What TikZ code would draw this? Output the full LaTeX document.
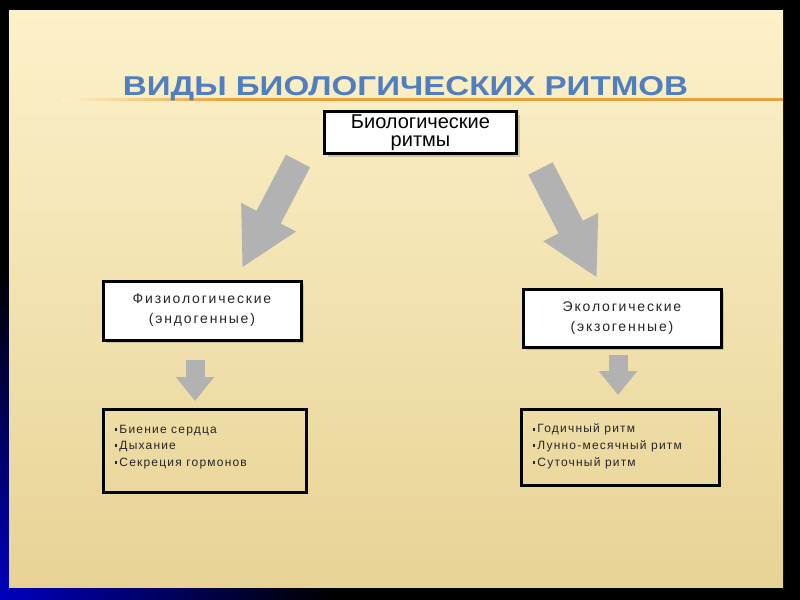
\documentclass[tikz,border=0pt]{standalone}
\usepackage{graphicx}
\usepackage{fontspec}
\setmainfont{Liberation Sans}
\newfontfamily\spaced[LetterSpace=13]{Liberation Sans}
\newfontfamily\listfont[LetterSpace=10]{Liberation Sans}
\usepackage{tikz}
\usetikzlibrary{arrows.meta,positioning,calc,shadows}
\definecolor{slidetop}{RGB}{252,241,202}
\definecolor{slidebot}{RGB}{232,211,150}
\definecolor{titleblue}{RGB}{80,126,192}
\definecolor{ruleorange}{RGB}{232,160,58}
\definecolor{arrowgrey}{RGB}{178,178,178}
\definecolor{cornerblue}{RGB}{0,0,190}
\tikzstyle{box} = [rectangle, draw=black, line width=2.25pt, fill=white, inner sep=0pt, align=center, drop shadow={shadow xshift=2.25pt, shadow yshift=-2.25pt, opacity=.35}]
\tikzstyle{listbox} = [rectangle, draw=black, line width=2.5pt, inner xsep=8.25pt, inner ysep=0pt, outer sep=0pt, anchor=north west]
\tikzstyle{bigarrow} = [draw=arrowgrey, line width=20.5pt, -{Triangle[length=43pt,width=43pt]}]
\tikzstyle{smallarrow} = [draw=arrowgrey, line width=14.25pt, -{Triangle[length=18pt,width=27.75pt]}]
\newcommand{\sq}{\raisebox{1.8pt}{\rule{2.2pt}{2.2pt}}\hspace{1.5pt}}
\begin{document}
\begin{tikzpicture}[x=0.75pt, y=-0.75pt]
    \useasboundingbox (0,0) rectangle (800,600);
    \fill[black] (0,0) rectangle (800,600);
    \shade[inner color=cornerblue, outer color=black] (0,600) circle (330);
    \shade[top color=slidetop, bottom color=slidebot] (9,10) rectangle (783,587);
    \shade[left color=slidetop, right color=ruleorange] (62,98) rectangle (230,100.5);
    \fill[ruleorange] (230,98) rectangle (783,100.5);

    \node[anchor=base, inner sep=0pt, text=titleblue] (title) at (405.5,95)
        {\resizebox{423.75pt}{14.25pt}{\bfseries ВИДЫ БИОЛОГИЧЕСКИХ РИТМОВ}};

    \node[box, minimum width=144pt, minimum height=31.5pt, font=\fontsize{15pt}{13.5pt}\selectfont] (bio) at (420.5,132.5) {Биологические\\ритмы};
    \node[box, minimum width=148.5pt, minimum height=44.25pt, text=black!85, font=\spaced\fontsize{10.5pt}{15pt}\selectfont] (physio) at (202,310.5) {Физиологические\\(эндогенные)};
    \node[box, minimum width=148.5pt, minimum height=43.5pt, text=black!85, font=\spaced\fontsize{10.5pt}{15pt}\selectfont] (eco) at (622,318) {Экологические\\(экзогенные)};

    \node[listbox, minimum width=152.25pt, text height=11.6pt, text depth=50.6pt] (physlist) at (103.5,409.5)
        {\parbox[t]{135.75pt}{\raggedright\listfont\fontsize{9pt}{12.4pt}\selectfont\color{black!85}\sq Биение сердца\\\sq Дыхание\\\sq Секреция гормонов}};
    \node[listbox, minimum width=148.5pt, text height=10.9pt, text depth=46.1pt] (ecolist) at (521.5,409.5)
        {\parbox[t]{132pt}{\raggedright\listfont\fontsize{9pt}{12.4pt}\selectfont\color{black!85}\sq Годичный ритм\\\sq Лунно-месячный ритм\\\sq Суточный ритм}};

    \coordinate (bioL) at (298,161);
    \coordinate (physioT) at (242,268);
    \coordinate (bioR) at (540.5,168.5);
    \coordinate (ecoT) at (597,278);
    \coordinate (physioB) at (195,360);
    \coordinate (physlistT) at (195,401);
    \coordinate (ecoB) at (618,355);
    \coordinate (ecolistT) at (618,395);

    \draw[bigarrow] (bioL) -- (physioT);
    \draw[bigarrow] (bioR) -- (ecoT);
    \draw[smallarrow] (physioB) -- (physlistT);
    \draw[smallarrow] (ecoB) -- (ecolistT);
\end{tikzpicture}
\end{document}
